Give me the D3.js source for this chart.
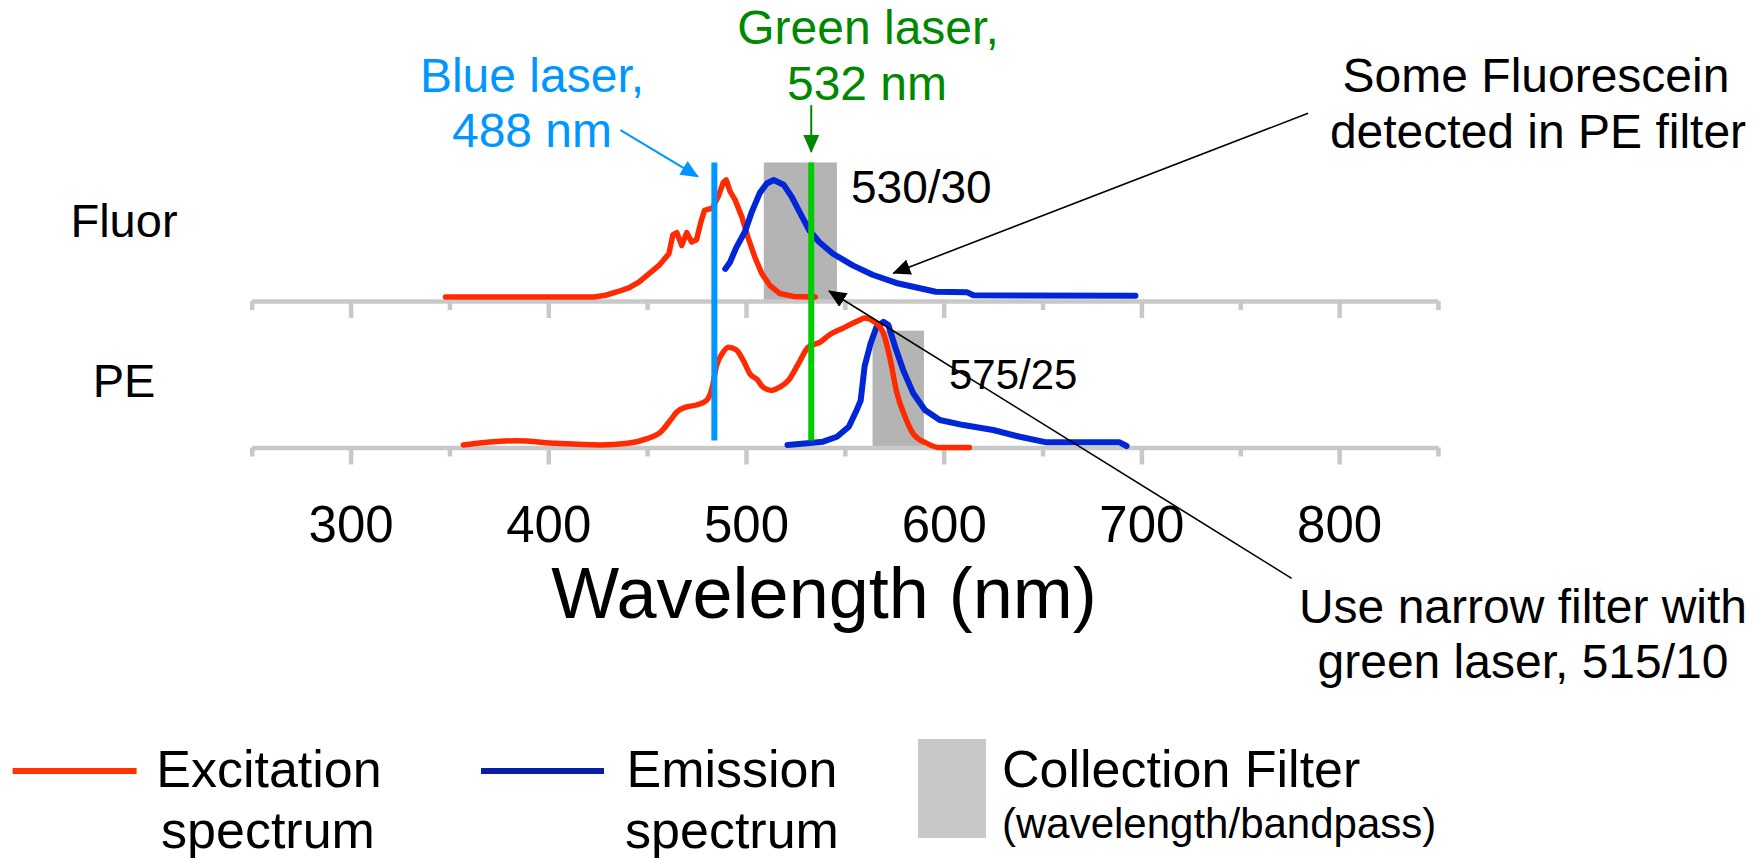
<!DOCTYPE html>
<html>
<head>
<meta charset="utf-8">
<script src="https://cdn.jsdelivr.net/npm/d3@7"></script>
<style>
    body { margin: 0; background: #fff; }
    text { font-family: "Liberation Sans", Arial, sans-serif; }
</style>
</head>
<body>
<div id="chart"></div>
<script>
// spectra, [wavelength nm, relative intensity %]
var fluorExcitation = [[348,0],[423,0],[429,1.5],[435,4.5],[441,8],[446,13],[451,20],[456,27],[461,37],[463,53],[465,55],
    [467.5,44],[470,55],[472.5,47],[475,49],[477,63],[479,74],[483,76],[486,86],[488.5,98],[490,100],[492,90],
    [494.5,83],[498,68],[501,51],[504.5,34],[508,20],[512,10],[517,3],[524,0.5],[535,0]];
var fluorEmission = [[489.5,24],[492,30],[495,42],[499.5,56],[503,73],[507,89],[510.5,97],[514,100],[519,96],[523,86],
    [527,73],[532,57],[537,47],[544,37],[554,27],[564,19],[576,12],[588,7.5],[596,4.5],[612,4],[615,1.5],[697,1]];
var peExcitation = [[357,0],[384,3.4],[404,1.3],[426,0],[440,1.3],[450,5],[457,10.5],[462,20],[465,26],[470,30],
    [475,31.5],[480,35],[483,46],[485,62],[488,72],[491,77],[495,75],[498.5,67],[502,56],[506,51],[508,46.5],
    [513,43],[517,45.5],[521.5,51],[526.5,64],[531.5,77],[537.5,81],[542.5,87],[549,92],[557,98],[560,100],
    [565,97],[569.5,88],[573,67],[576,43],[580.5,22],[584.5,9],[591.5,1.3],[598,-2],[613,-2]];
var peEmission = [[521,0],[531,1.3],[539,2.6],[546,6.5],[552,14.4],[556,27.6],[558,35],[560,62],[563,80],[566,93],
    [569.5,97],[572,94.5],[575.5,77],[579.5,59],[584.5,41],[590.5,27.6],[598,19.7],[610,15.7],[625,11.8],
    [638.5,6.5],[652,2.1],[689,2.1],[692.5,-0.8]];

// collection filters as drawn (nm from / to, top in % of panel)
var filterNames = ["530/30", "575/25"];
var filterFrom = [509, 564];
var filterTo = [546, 590];
var filterTop = [115, 90];

// laser lines as drawn
var laserNames = ["Blue laser,", "Green laser,"];
var laserWavelengths = ["488 nm", "532 nm"];
var laserNm = [484, 533];

var axisTicks = [250, 300, 350, 400, 450, 500, 550, 600, 650, 700, 750, 800, 850];
var tickLabels = [300, 400, 500, 600, 700, 800];

var RED = "#ff2a00", BLUE = "#0026d8", LIGHTBLUE = "#0096ff", GREEN = "#00cc00", DARKGREEN = "#008800";
var GRAY = "#b4b4b4", AXISGRAY = "#c8c8c8";

var svg = d3.select("#chart").append("svg")
    .attr("width", 1762)
    .attr("height", 858);

var x = d3.scaleLinear().domain([250, 850]).range([251.75, 1437.95]);
var yFluor = d3.scaleLinear().domain([0, 100]).range([297, 180]);
var yPE = d3.scaleLinear().domain([0, 100]).range([445, 318]);
var axisY = [301, 447.5];

// markers
var defs = svg.append("defs");
[["black", "#000"], ["blue", LIGHTBLUE], ["green", DARKGREEN]].forEach(function (m) {
    defs.append("marker")
        .attr("id", "arrow-" + m[0])
        .attr("markerUnits", "userSpaceOnUse")
        .attr("markerWidth", 18).attr("markerHeight", 16)
        .attr("refX", 17).attr("refY", 8)
        .attr("orient", "auto")
        .append("path").attr("d", "M0,0L18,8L0,16Z").attr("fill", m[1]);
});

// filtros
var panelsY = [yFluor, yPE];
svg.selectAll(".filter")
    .data(filterNames)
    .enter().append("rect")
    .attr("x", function (d, i) { return x(filterFrom[i]); })
    .attr("width", function (d, i) { return x(filterTo[i]) - x(filterFrom[i]); })
    .attr("y", function (d, i) { return panelsY[i](filterTop[i]); })
    .attr("height", function (d, i) { return axisY[i] - panelsY[i](filterTop[i]); })
    .attr("fill", GRAY);

// ejes
axisY.forEach(function (yPos) {
    var g = svg.append("g").attr("transform", "translate(0," + yPos + ")")
        .call(d3.axisBottom(x).tickValues(axisTicks).tickSize(0).tickSizeOuter(0).tickFormat(""));
    g.select(".domain").attr("stroke", AXISGRAY).attr("stroke-width", 4.5);
    g.selectAll(".tick line").attr("stroke", AXISGRAY).attr("stroke-width", 4.5)
        .attr("y2", function (d) { return d % 100 === 0 ? 17 : 9; });
    g.selectAll(".tick text").remove();
});

var labels = svg.append("g").attr("transform", "translate(0," + axisY[1] + ")")
    .call(d3.axisBottom(x).tickValues(tickLabels).tickSize(0).tickPadding(58));
labels.select(".domain").remove();
labels.attr("font-size", 51).attr("font-family", "'Liberation Sans', Arial, sans-serif");
labels.selectAll("text").attr("fill", "#000");

// curvas
function drawCurve(data, yScale, color, width, curve) {
    svg.append("path")
        .datum(data)
        .attr("fill", "none")
        .attr("stroke", color)
        .attr("stroke-width", width)
        .attr("stroke-linejoin", "round")
        .attr("stroke-linecap", "round")
        .attr("d", d3.line()
            .x(function (d) { return x(d[0]); })
            .y(function (d) { return yScale(d[1]); })
            .curve(curve));
}
drawCurve(fluorExcitation, yFluor, RED, 5.5, d3.curveLinear);
drawCurve(fluorEmission, yFluor, BLUE, 6, d3.curveLinear);
drawCurve(peEmission, yPE, BLUE, 6, d3.curveLinear);
drawCurve(peExcitation, yPE, RED, 5.5, d3.curveMonotoneX);

// lasers
svg.selectAll(".laser")
    .data(laserNm)
    .enter().append("line")
    .attr("x1", function (d) { return x(d); })
    .attr("x2", function (d) { return x(d); })
    .attr("y1", yFluor(115))
    .attr("y2", yPE(3.5))
    .attr("stroke", function (d, i) { return i === 0 ? LIGHTBLUE : GREEN; })
    .attr("stroke-width", 6);

// textos
function label(txt, cx, cy, size, color, anchor) {
    svg.append("text").text(txt)
        .attr("x", cx).attr("y", cy)
        .attr("font-size", size)
        .attr("fill", color || "#000")
        .attr("text-anchor", anchor || "middle");
}
label("Fluor", 124, 237, 47);
label("PE", 124, 397, 47);
label(filterNames[0], 851, 203, 46, "#000", "start");
label(filterNames[1], 949, 389, 42, "#000", "start");
label(laserNames[0], 532, 92, 48, LIGHTBLUE);
label(laserWavelengths[0], 532, 147, 48, LIGHTBLUE);
label(laserNames[1], 868, 44, 48, DARKGREEN);
label(laserWavelengths[1], 867, 100, 48, DARKGREEN);
label("Some Fluorescein", 1536, 92, 48);
label("detected in PE filter", 1538, 148, 48);
label("Use narrow filter with", 1523, 623, 48);
label("green laser, 515/10", 1523, 678, 48);
label("Wavelength (nm)", 824, 618, 72);

// flechas: [nm, valor, panel]
var arrows = [
    { from: [436.5, 142.7, 0], to: [475.7, 102.8, 0], m: "blue", c: LIGHTBLUE, w: 2 },
    { from: [533, 164, 0], to: [533, 124, 0], m: "green", c: DARKGREEN, w: 2 },
    { from: [784.3, 157, 0], to: [574.5, 20.3, 0], m: "black", c: "#000", w: 1.6 },
    { from: [776, -105, 1], to: [542, 5.1, 0], m: "black", c: "#000", w: 1.6 }
];
svg.selectAll(".arrow")
    .data(arrows)
    .enter().append("line")
    .attr("x1", function (d) { return x(d.from[0]); })
    .attr("y1", function (d) { return panelsY[d.from[2]](d.from[1]); })
    .attr("x2", function (d) { return x(d.to[0]); })
    .attr("y2", function (d) { return panelsY[d.to[2]](d.to[1]); })
    .attr("stroke", function (d) { return d.c; })
    .attr("stroke-width", function (d) { return d.w; })
    .attr("marker-end", function (d) { return "url(#arrow-" + d.m + ")"; });

// leyenda
svg.append("line").attr("x1", 12.6).attr("x2", 136.6).attr("y1", 771).attr("y2", 771)
    .attr("stroke", "#ff3300").attr("stroke-width", 6);
label("Excitation", 269, 787, 52);
label("spectrum", 268, 848, 52);
svg.append("line").attr("x1", 481).attr("x2", 604).attr("y1", 771).attr("y2", 771)
    .attr("stroke", "#0a1eaa").attr("stroke-width", 6);
label("Emission", 732, 787, 52);
label("spectrum", 732, 848, 52);
svg.append("rect").attr("x", 918).attr("y", 739).attr("width", 68).attr("height", 99).attr("fill", AXISGRAY);
label("Collection Filter", 1002, 787, 52, "#000", "start");
label("(wavelength/bandpass)", 1002, 838, 42, "#000", "start");
</script>
</body>
</html>
